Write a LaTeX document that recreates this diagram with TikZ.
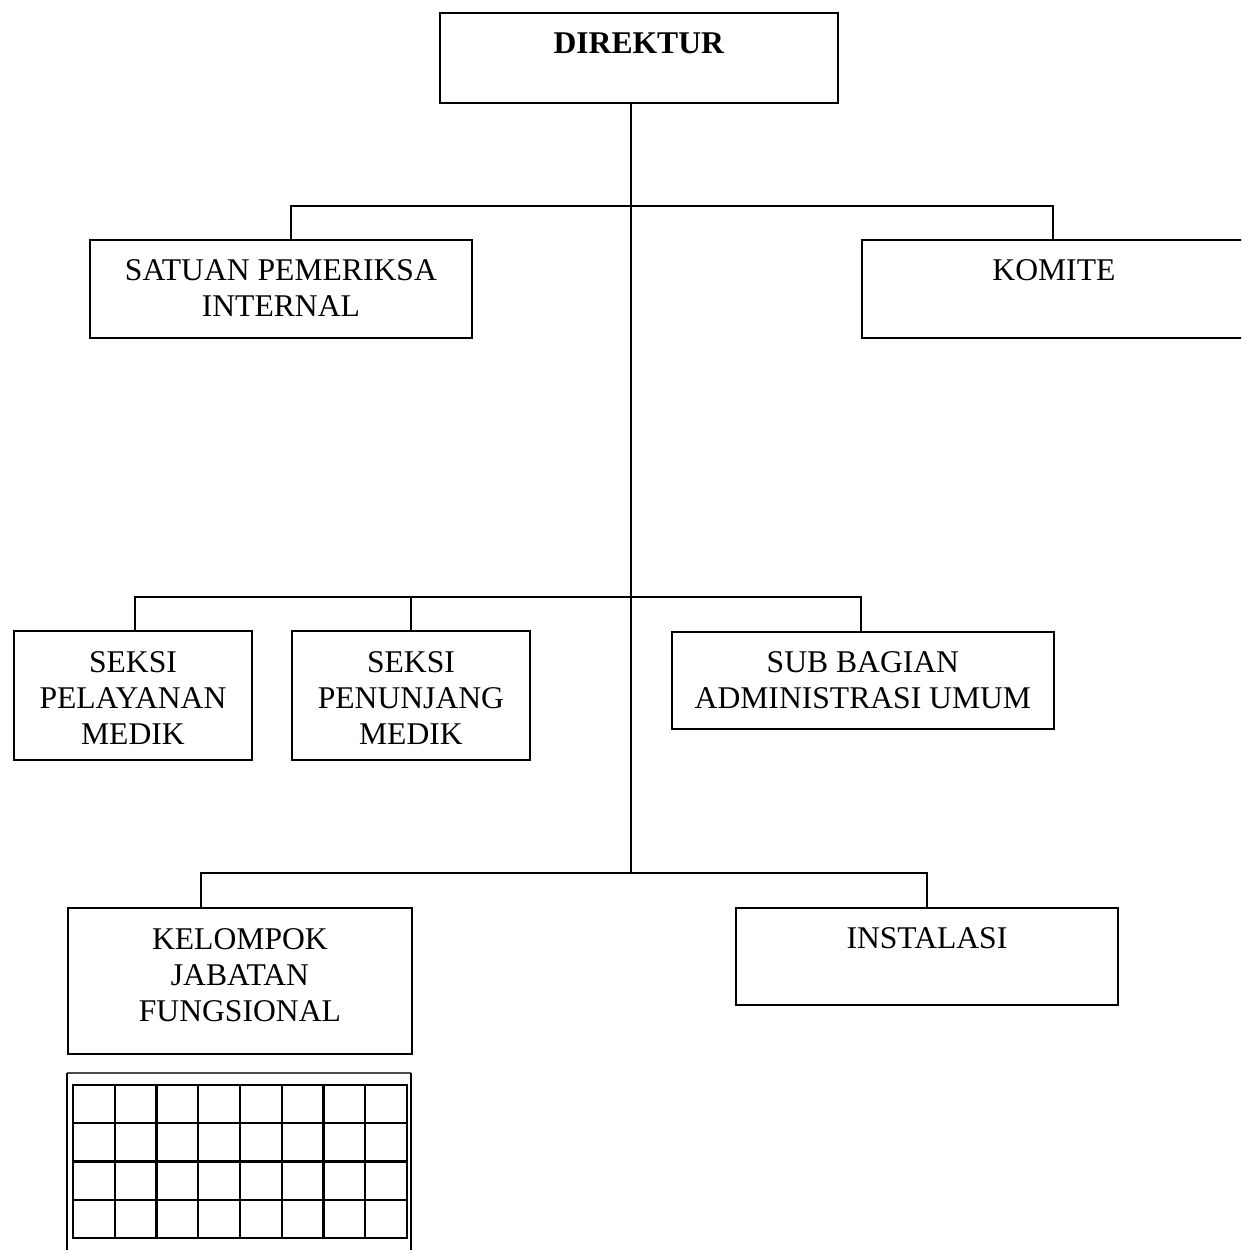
\documentclass[tikz,border=0pt]{standalone}
\usepackage{fontspec}
\setmainfont{Liberation Serif}
\usepackage{tikz}

\begin{document}
\begin{tikzpicture}[x=0.02cm,y=-0.02cm,line width=1.1pt]
  \tikzset{unit/.style={draw,rectangle,inner sep=0pt,anchor=north west},
           lbl/.style={align=center,inner sep=0pt,anchor=north,
                       font=\fontsize{18}{20.5}\selectfont}}
  \useasboundingbox (0,0) rectangle (1241,1250);
  \clip (0,0) rectangle (1241,1250);
  % boxes
  \node [unit,minimum width=7.96cm,minimum height=1.8cm] (dir) at (439,12) {};
  \node [unit,minimum width=7.64cm,minimum height=1.96cm] (spi) at (89,239) {};
  \node [unit,minimum width=7.68cm,minimum height=1.96cm] (kom) at (861,239) {};
  \node [unit,minimum width=4.76cm,minimum height=2.58cm] (spm) at (13,630) {};
  \node [unit,minimum width=4.76cm,minimum height=2.58cm] (spn) at (291,630) {};
  \node [unit,minimum width=7.64cm,minimum height=1.94cm] (sba) at (671,631) {};
  \node [unit,minimum width=6.88cm,minimum height=2.92cm] (kjf) at (67,907) {};
  \node [unit,minimum width=7.64cm,minimum height=1.94cm] (ins) at (735,907) {};
  % texts
  \node [lbl] (dirt) at ([yshift=-0.4cm]dir.north) {\textbf{DIREKTUR}};
  \node [lbl] (spit) at ([yshift=-0.4cm]spi.north) {SATUAN PEMERIKSA\\INTERNAL};
  \node [lbl] (komt) at ([yshift=-0.4cm]kom.north) {KOMITE};
  \node [lbl] (spmt) at ([yshift=-0.42cm]spm.north) {SEKSI\\PELAYANAN\\MEDIK};
  \node [lbl] (spnt) at ([yshift=-0.42cm]spn.north) {SEKSI\\PENUNJANG\\MEDIK};
  \node [lbl] (sbat) at ([yshift=-0.4cm]sba.north) {SUB BAGIAN\\ADMINISTRASI UMUM};
  \node [lbl] (kjft) at ([yshift=-0.42cm]kjf.north) {KELOMPOK\\JABATAN\\FUNGSIONAL};
  \node [lbl] (inst) at ([yshift=-0.4cm]ins.north) {INSTALASI};
  % lines
  \coordinate (trunk) at (631,873);
  \coordinate (tl) at (291,206);  \coordinate (tr) at (1053,206);
  \coordinate (ml) at (135,597);  \coordinate (mr) at (861,597);
  \coordinate (bl) at (201,873);  \coordinate (br) at (927,873);
  \draw (dir.south -| trunk) -- (trunk);
  \draw (tl |- spi.north) -- (tl) -- (tr) -- (tr |- kom.north);
  \draw (ml |- spm.north) -- (ml) -- (mr) -- (mr |- sba.north);
  \draw (spn.north) -- (spn.north |- ml);
  \draw (bl |- kjf.north) -- (bl) -- (br) -- (br |- ins.north);
  % grid under kelompok
  \begin{scope}[line width=1.4pt]
    \draw [black!70] (67,1073) -- (411,1073);
    \draw (67,1073) -- (67,1250) (411,1073) -- (411,1250);
    \draw (73,1085) rectangle (407,1238);
    \foreach \i in {1,...,7}
      \draw ({73+\i*41.75},1085) -- ({73+\i*41.75},1238);
    \foreach \j in {1,2,3}
      \draw (73,{1085+\j*38.25}) -- (407,{1085+\j*38.25});
  \end{scope}
\end{tikzpicture}
\end{document}
